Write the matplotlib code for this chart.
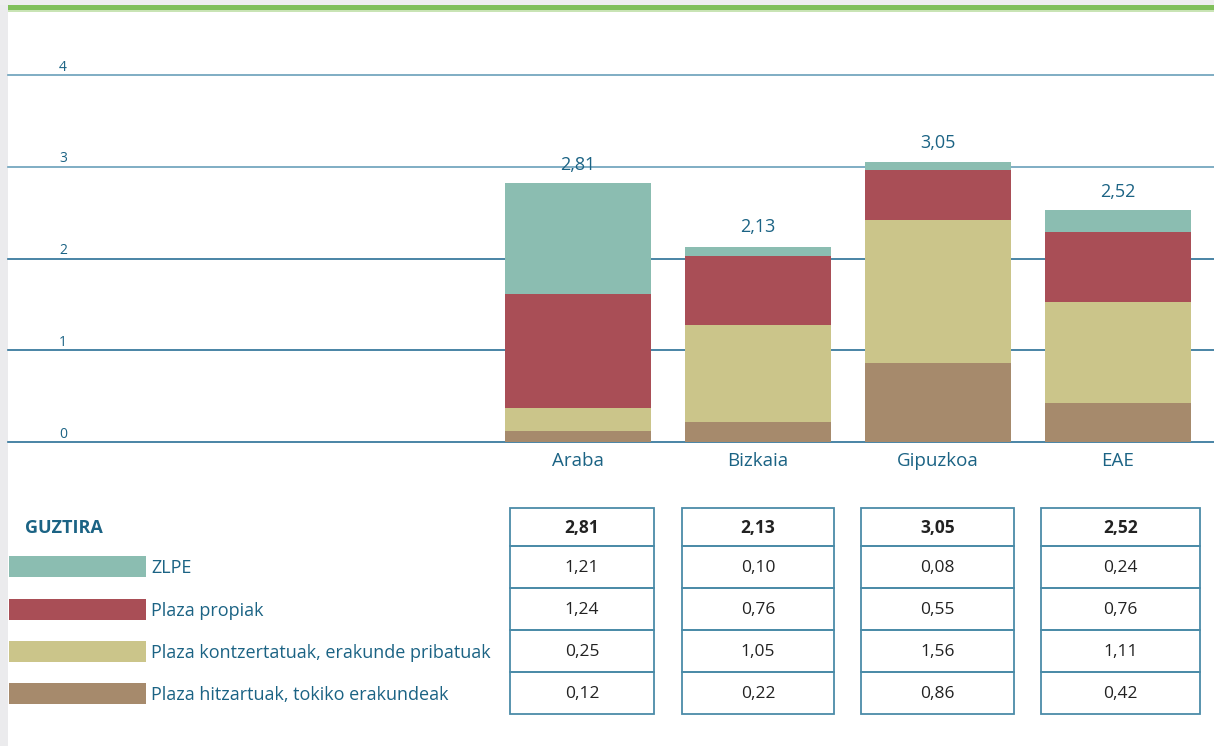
import matplotlib
matplotlib.use("Agg")
import matplotlib.pyplot as plt
from matplotlib.patches import Rectangle
import numpy as np

plt.rcParams['font.family'] = ['Open Sans', 'DejaVu Sans']

# datuak
lurraldeak = ["Araba", "Bizkaia", "Gipuzkoa", "EAE"]
guztira = [2.81, 2.13, 3.05, 2.52]
hitzartuak = [0.12, 0.22, 0.86, 0.42]
kontzertatuak = [0.25, 1.05, 1.56, 1.11]
propiak = [1.24, 0.76, 0.55, 0.76]
zlpe = [1.21, 0.10, 0.08, 0.24]
yticks = [0, 1, 2, 3, 4]

serie_izenak = ["ZLPE", "Plaza propiak", "Plaza kontzertatuak, erakunde pribatuak",
                "Plaza hitzartuak, tokiko erakundeak"]
koloreak = ["#8bbdb1", "#a94e56", "#cbc58a", "#a68a6c"]
testu_kolorea = "#1b6384"
marko_kolorea = "#4b8ba8"

W, H = 1214, 746
fig = plt.figure(figsize=(W / 100, H / 100), dpi=100)
fig.patch.set_facecolor("white")

# atzeko geruza (pixel koordenatuak)
bg = fig.add_axes([0, 0, 1, 1], zorder=0)
bg.set_xlim(0, W)
bg.set_ylim(H, 0)
bg.axis("off")
bg.add_patch(Rectangle((0, 0), 8, H, color="#ebebed", lw=0))
bg.add_patch(Rectangle((0, 0), W, 5, color="#eeeeee", lw=0))
bg.add_patch(Rectangle((8, 5), W, 5, color="#80c05a", lw=0))
bg.add_patch(Rectangle((8, 10), W, 1.5, color="#c9e4b5", lw=0))

# grafikoa
x0, x1 = 8, 1214
y_top, y_zero = 75, 442
ax = fig.add_axes([x0 / W, 1 - y_zero / H, (x1 - x0) / W, (y_zero - y_top) / H], zorder=1)
ax.patch.set_alpha(0)
pos = np.arange(3, 3 + len(lurraldeak))
ax.set_xlim(3 - 570 / 180, 6 + 96.5 / 180)
ax.set_ylim(0, 4)

for t in yticks:
    c = "#2a7096" if t <= 2 else "#6aa0ba"
    ax.axhline(t, color=c, lw=1.2, zorder=0, clip_on=False)
    ax.text(3 - (578 - 63) / 180, t + 0.005, str(t), color=testu_kolorea, fontsize=10,
            ha="center", va="bottom", zorder=1)

behekoa = np.zeros(len(lurraldeak))
for vals, col in zip([hitzartuak, kontzertatuak, propiak, zlpe], koloreak[::-1]):
    ax.bar(pos, vals, bottom=behekoa, width=146 / 180, color=col, zorder=2)
    behekoa += np.array(vals)

for p, g in zip(pos, guztira):
    ax.text(p, g + 0.11, f"{g:.2f}".replace(".", ","), ha="center", va="bottom",
            color=testu_kolorea, fontsize=13)

ax.set_xticks(pos)
ax.set_xticklabels(lurraldeak, color=testu_kolorea, fontsize=13.5)
ax.tick_params(axis="x", length=0, pad=7)
ax.set_yticks([])
for s in ax.spines.values():
    s.set_visible(False)

# taula eta legenda
tx = fig.add_axes([0, 0, 1, 1], zorder=3)
tx.set_xlim(0, W)
tx.set_ylim(H, 0)
tx.axis("off")

zutabeak = [(510, 654), (682, 834), (861, 1014), (1041, 1200)]
errenkadak = [508, 546, 588, 630, 672, 714]
taula = [guztira, zlpe, propiak, kontzertatuak, hitzartuak]

for j, (a, b) in enumerate(zutabeak):
    for r in range(5):
        ya, yb = errenkadak[r], errenkadak[r + 1]
        tx.add_patch(Rectangle((a, ya), b - a, yb - ya, fill=False,
                               edgecolor=marko_kolorea, lw=1.3))
        v = taula[r][j]
        tx.text((a + b) / 2, (ya + yb) / 2 + 1, f"{v:.2f}".replace(".", ","),
                ha="center", va="center", fontsize=12.5, color="#222222",
                fontweight="bold" if r == 0 else "normal")

tx.text(25, 528, "GUZTIRA", ha="left", va="center", fontsize=13,
        fontweight="bold", color=testu_kolorea)

swatch_y = [556, 599, 641, 683]
for y, izena, col in zip(swatch_y, serie_izenak, koloreak):
    tx.add_patch(Rectangle((9, y), 137, 21, color=col, lw=0))
    tx.text(151, y + 12, izena, ha="left", va="center", fontsize=13,
            color=testu_kolorea)

fig.savefig("out.png", dpi=100)
